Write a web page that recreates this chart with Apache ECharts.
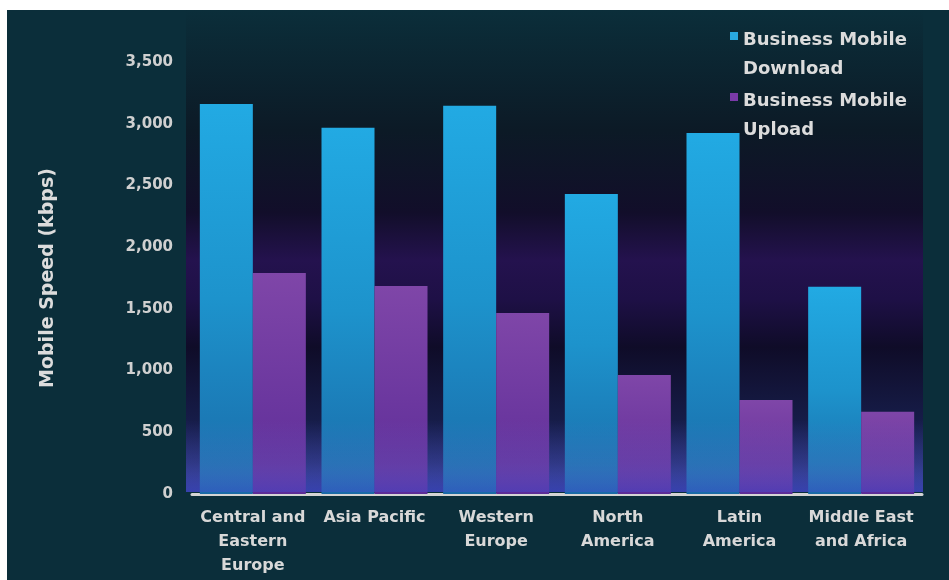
<!DOCTYPE html>
<html>
<head>
<meta charset="utf-8">
<script src="https://cdn.jsdelivr.net/npm/echarts@6/dist/echarts.min.js"></script>
<style>
html,body{margin:0;padding:0;background:#ffffff;}
#chart{width:949px;height:580px;}
</style>
</head>
<body>
<div id="chart"></div>
<script>
const categories = ['Central and\nEastern\nEurope', 'Asia Pacific', 'Western\nEurope', 'North\nAmerica', 'Latin\nAmerica', 'Middle East\nand Africa'];
const downloadValues = [3160, 2968, 3146, 2430, 2925, 1680];
const uploadValues = [1790, 1685, 1467, 964, 762, 667];
const seriesNames = ['Business Mobile Download', 'Business Mobile Upload'];
const yTicks = { min: 0, max: 3500, interval: 500 };

const chart = echarts.init(document.getElementById('chart'), null, { renderer: 'canvas' });
const FONT = 'DejaVu Sans';
const G = echarts.graphic.LinearGradient;

chart.setOption({
  backgroundColor: '#0b2e3a',
  animation: false,
  graphic: [
    { type: 'rect', z: -10, silent: true, shape: { x: 186, y: 10, width: 737, height: 482 },
      style: { fill: new G(0, 0, 0, 1, [
        { offset: 0, color: '#0b2e3a' },
        { offset: 0.25, color: '#0c1a26' },
        { offset: 0.42, color: '#120e2a' },
        { offset: 0.52, color: '#24124e' },
        { offset: 0.6, color: '#1e1046' },
        { offset: 0.7, color: '#0f0c28' },
        { offset: 0.85, color: '#161c48' },
        { offset: 1, color: '#2a3490' }
      ]) } },
    { type: 'rect', z: 100, silent: true, shape: { x: 186, y: 420, width: 737, height: 72 },
      style: { fill: new G(0, 0, 0, 1, [
        { offset: 0, color: 'rgba(110,120,220,0)' },
        { offset: 0.6, color: 'rgba(110,120,220,0.18)' },
        { offset: 1, color: 'rgba(70,80,210,0.45)' }
      ]) } },
    { type: 'rect', z: 200, silent: true, shape: { x: 0, y: 0, width: 949, height: 10 }, style: { fill: '#ffffff' } },
    { type: 'rect', z: 200, silent: true, shape: { x: 0, y: 0, width: 7, height: 580 }, style: { fill: '#ffffff' } }
  ],
  grid: { left: 192, right: 27, top: 62, bottom: 86, containLabel: false },
  legend: {
    orient: 'vertical',
    left: 723,
    top: 21,
    itemWidth: 10,
    itemHeight: 58,
    itemGap: 3,
    selectedMode: false,
    data: [
      { name: seriesNames[0], icon: 'path://M2,6H10V14H2Z M0,0L0.01,0L0.01,0.01Z M0,58L0.01,58L0.01,57.99Z', itemStyle: { color: '#29a9e0' } },
      { name: seriesNames[1], icon: 'path://M2,6H10V14H2Z M0,0L0.01,0L0.01,0.01Z M0,58L0.01,58L0.01,57.99Z', itemStyle: { color: '#7a3aa8' } }
    ],
    formatter: n => n.replace(' Mobile ', ' Mobile\n'),
    textStyle: { color: '#dcdcdc', fontSize: 18, fontWeight: 'bold', fontFamily: FONT, lineHeight: 29 }
  },
  xAxis: {
    type: 'category',
    data: categories,
    axisLine: { show: true, lineStyle: { color: '#d4d4d4', width: 3 } },
    axisTick: { show: false },
    axisLabel: { interval: 0, margin: 12, color: '#d8d8d8', fontSize: 16, fontWeight: 'bold', fontFamily: FONT, lineHeight: 24 },
    splitLine: { show: false }
  },
  yAxis: {
    type: 'value',
    min: yTicks.min, max: yTicks.max, interval: yTicks.interval,
    name: 'Mobile Speed (kbps)',
    nameLocation: 'middle',
    nameRotate: 90,
    nameGap: 134,
    nameTextStyle: { color: '#dcdcdc', fontSize: 19, fontWeight: 'bold', fontFamily: FONT },
    axisLine: { show: false },
    axisTick: { show: false },
    splitLine: { show: false },
    axisLabel: {
      margin: 19, color: '#d0d0d0', fontSize: 15, fontWeight: 'bold', fontFamily: FONT,
      formatter: v => v.toLocaleString('en-US')
    }
  },
  series: [
    {
      name: seriesNames[0], type: 'bar', data: downloadValues, barWidth: 53, barGap: '0%',
      itemStyle: { color: new G(0, 0, 0, 1, [
        { offset: 0, color: '#22aae3' },
        { offset: 0.5, color: '#1d93cc' },
        { offset: 1, color: '#1a6aa8' }
      ]) }
    },
    {
      name: seriesNames[1], type: 'bar', data: uploadValues, barWidth: 53, barGap: '0%',
      itemStyle: { color: new G(0, 0, 0, 1, [
        { offset: 0, color: '#7f46a8' },
        { offset: 1, color: '#5c2c98' }
      ]) }
    }
  ]
});
</script>
</body>
</html>
